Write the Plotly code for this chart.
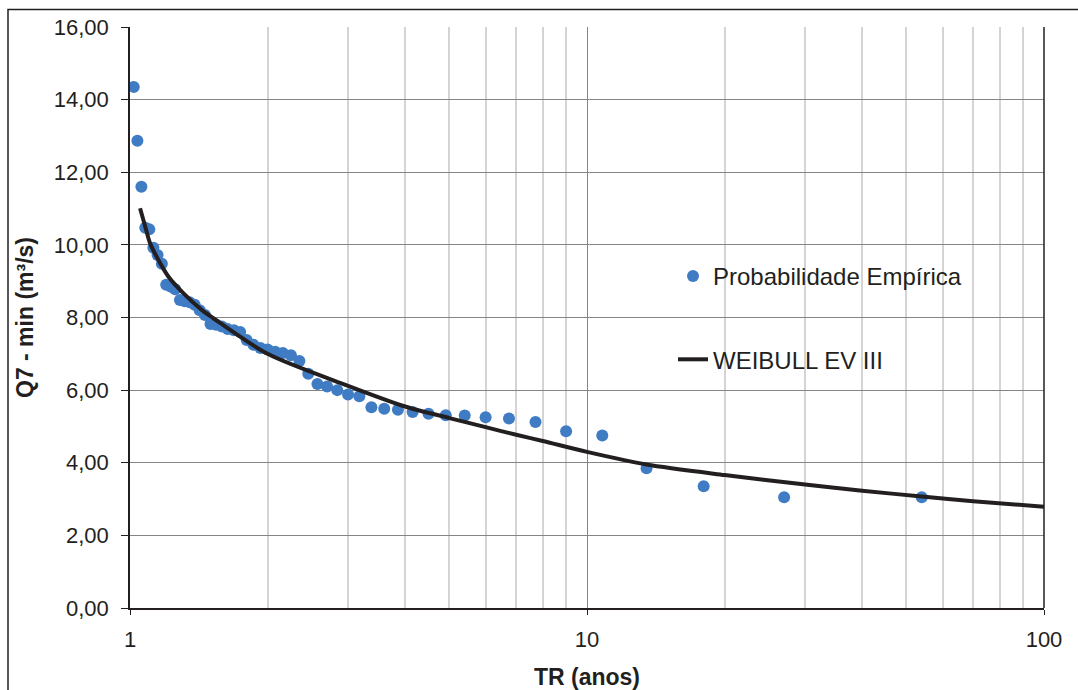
import plotly.graph_objects as go

# Empirical points: return period (years) and Q7-min (m3/s)
tr_emp = [1.019, 1.038, 1.059, 1.08, 1.102, 1.125, 1.149, 1.174, 1.2, 1.227,
          1.256, 1.286, 1.317, 1.35, 1.385, 1.421, 1.459, 1.5, 1.543, 1.588,
          1.636, 1.688, 1.742, 1.8, 1.862, 1.929, 2.0, 2.077, 2.16, 2.25,
          2.348, 2.455, 2.571, 2.7, 2.842, 3.0, 3.176, 3.375, 3.6, 3.857,
          4.154, 4.5, 4.909, 5.4, 6.0, 6.75, 7.714, 9.0, 10.8, 13.5,
          18.0, 27.0, 54.0]
q_emp = [14.35, 12.87, 11.6, 10.47, 10.43, 9.92, 9.72, 9.48, 8.9, 8.85,
         8.78, 8.48, 8.45, 8.42, 8.35, 8.2, 8.07, 7.82, 7.8, 7.75,
         7.68, 7.65, 7.6, 7.38, 7.25, 7.16, 7.12, 7.06, 7.02, 6.96,
         6.8, 6.45, 6.17, 6.1, 6.0, 5.88, 5.83, 5.53, 5.49, 5.46,
         5.4, 5.35, 5.31, 5.3, 5.25, 5.22, 5.12, 4.87, 4.75, 3.85,
         3.35, 3.05, 3.05]

# Fitted Weibull EV III curve
tr_fit = [1.052, 1.08, 1.106, 1.153, 1.213, 1.308, 1.435, 1.522, 2.0, 3.0,
          4.0, 5.0, 6.0, 7.0, 8.0, 10.0, 13.5, 20.0, 30.0, 40.0, 54.0, 70.0, 100.0]
q_fit = [11.01, 10.5, 10.05, 9.59, 9.13, 8.67, 8.21, 7.98, 7.0, 6.12,
         5.55, 5.23, 4.98, 4.77, 4.6, 4.3, 3.95, 3.66, 3.4, 3.23, 3.07, 2.94, 2.79]

x_major = [1, 10, 100]
x_minor = [2, 3, 4, 5, 6, 7, 8, 9, 20, 30, 40, 50, 60, 70, 80, 90]
y_ticks = [0, 2, 4, 6, 8, 10, 12, 14, 16]

FONT = "Liberation Sans, Arial, sans-serif"
INK = "#231f20"

fig = go.Figure()
fig.add_trace(go.Scatter(
    x=tr_emp, y=q_emp, mode="markers", name="Probabilidade Empírica",
    marker=dict(color="#3f7cc4", size=12), legendgroup="a"))
fig.add_trace(go.Scatter(
    x=tr_fit, y=q_fit, mode="lines", name="WEIBULL EV III",
    line=dict(color=INK, width=4, shape="spline", smoothing=0.8),
    legendgroup="b"))

fig.update_layout(
    width=1078, height=690,
    margin=dict(l=130, r=34, t=27, b=82),
    paper_bgcolor="white", plot_bgcolor="white",
    separators=",.",
    font=dict(family=FONT, size=22, color=INK),
    showlegend=True,
    legend=dict(x=(673 - 130) / 914, y=(608 - 254) / 581, xanchor="left", yanchor="top",
                bgcolor="rgba(0,0,0,0)", font=dict(size=24, color=INK),
                traceorder="grouped", tracegroupgap=49,
                borderwidth=0),
    xaxis=dict(type="log", range=[0, 2], tickmode="array", tickvals=x_major,
               ticktext=["1", "10", "100"], showgrid=True, gridcolor="#858585",
               gridwidth=1, showline=True, linecolor=INK, linewidth=1.5,
               ticks="outside", ticklen=5, tickcolor=INK, zeroline=False,
               ticklabelstandoff=6, automargin=False,
               minor=dict(tickmode="array", tickvals=x_minor, showgrid=True,
                          gridcolor="#d4d4d4", gridwidth=1.5, ticks=""),
               title=dict(text="<b>TR (anos)</b>", font=dict(size=23), standoff=23),
               tickfont=dict(size=22)),
    yaxis=dict(range=[0, 16], tickmode="array", tickvals=y_ticks,
               tickformat=".2f", showgrid=True, gridcolor="#858585", gridwidth=1,
               showline=True, linecolor=INK, linewidth=1.5,
               ticks="outside", ticklen=7, tickcolor=INK, zeroline=False,
               ticklabelstandoff=8, automargin=False,
               title=dict(text="<b>Q7 - min (m³/s)</b>", font=dict(size=23), standoff=14),
               tickfont=dict(size=22)),
)

# white legend box covering the grid
fig.add_shape(type="rect", xref="paper", yref="paper",
              x0=(660 - 130) / 914, x1=(978 - 130) / 914,
              y0=(608 - 400) / 581, y1=(608 - 235) / 581,
              line=dict(width=0), fillcolor="white", layer="between")
# right border of the plot area
fig.add_shape(type="line", xref="paper", yref="paper", x0=1, x1=1, y0=0, y1=1,
              line=dict(color=INK, width=1.5))
# outer frame of the chart
fig.add_shape(type="rect", xref="paper", yref="paper",
              x0=(8 - 130) / 914, x1=(1090 - 130) / 914,
              y0=(608 - 700) / 581, y1=(608 - 9.5) / 581,
              line=dict(color=INK, width=1.5), fillcolor="rgba(0,0,0,0)",
              layer="below")

fig.write_html("out.html")
